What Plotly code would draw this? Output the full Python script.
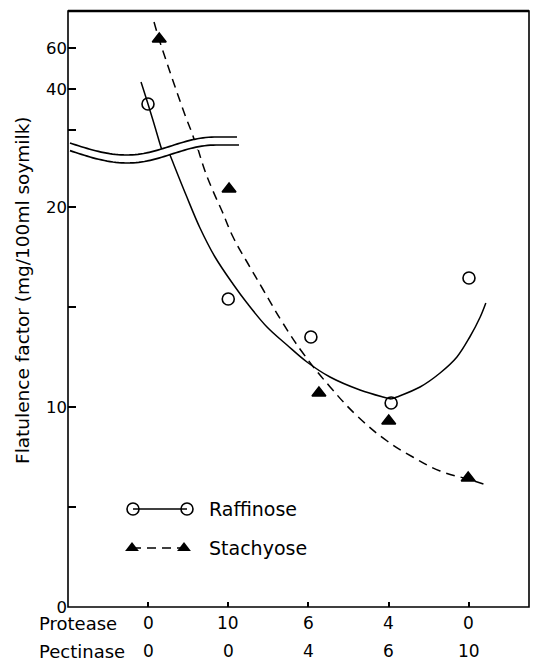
import numpy as np
import plotly.graph_objects as go

# ---------------- data ----------------
categories = [0, 1, 2, 3, 4]
protease = ["0", "10", "6", "4", "0"]
pectinase = ["0", "0", "4", "6", "10"]

raffinose_x = [0.0, 1.0, 2.03, 3.03, 4.0]
raffinose_y = [32.7, 15.4, 13.5, 10.2, 16.45]
stachyose_x = [0.14, 1.01, 2.13, 3.0, 3.99]
stachyose_y = [64.4, 20.9, 10.7, 9.3, 6.45]

# fitted curves, split at the axis break (and at the raffinose minimum)
raff_fit_upper_x = [-0.087, 0.0, 0.087, 0.174, 0.19]
raff_fit_upper_y = [43.4, 32.7, 21.5, 10.2, 8.8]
raff_fit_lower_left_x = [0.24, 0.299, 0.474, 0.648, 0.835, 1.059, 1.234, 1.483, 1.732, 1.981, 2.268, 2.642, 2.928, 3.03]
raff_fit_lower_left_y = [22.95, 22.35, 20.6, 18.95, 17.5, 16.15, 15.2, 14.0, 13.1, 12.25, 11.5, 10.85, 10.5, 10.4]
raff_fit_lower_right_x = [3.03, 3.1, 3.39, 3.64, 3.85, 4.01, 4.14, 4.21]
raff_fit_lower_right_y = [10.4, 10.5, 11.0, 11.7, 12.5, 13.5, 14.5, 15.2]
stach_fit_upper_x = [0.075, 0.137, 0.274, 0.461, 0.548, 0.61, 0.623]
stach_fit_upper_y = [72.7, 64.4, 48.3, 27.3, 18.5, 11.2, 9.3]
stach_fit_lower_x = [0.623, 0.71, 0.81, 0.922, 1.06, 1.27, 1.43, 1.68, 1.93, 2.27, 2.62, 2.98, 3.3, 3.64, 3.98, 4.22]
stach_fit_lower_y = [22.9, 21.8, 20.8, 19.8, 18.5, 17.0, 15.9, 14.2, 12.7, 11.0, 9.5, 8.3, 7.5, 6.8, 6.4, 6.1]

lower_ticks = [0, 5, 10, 15, 20]
lower_ticktext = ["0", "", "10", "", "20"]
upper_ticks = [20, 40, 60]
upper_ticktext = ["", "40", "60"]

y_title = "Flatulence factor (mg/100ml soymilk)"
series_names = ["Raffinose", "Stachyose"]

# ---------------- layout geometry ----------------
W, H = 534, 662
L, R, T, B = 68, 5, 11, 55
PW, PH = W - L - R, H - T - B
FONT = "DejaVu Sans"
LOWER_TOP = 22.85


def px2paper_x(px):
    return (px - L) / PW


def px2paper_y(py):
    return (H - B - py) / PH


brk = px2paper_y(150)

fig = go.Figure()

line_style = dict(color="black", width=1.5)
dash_style = dict(color="black", width=1.5, dash="9px,6px")

fig.add_trace(go.Scatter(x=raff_fit_upper_x, y=raff_fit_upper_y, mode="lines",
                         line=dict(**line_style, shape="spline"), xaxis="x", yaxis="y2"))
fig.add_trace(go.Scatter(x=raff_fit_lower_left_x, y=raff_fit_lower_left_y, mode="lines",
                         line=dict(**line_style, shape="spline", smoothing=1.0), xaxis="x", yaxis="y"))
fig.add_trace(go.Scatter(x=raff_fit_lower_right_x, y=raff_fit_lower_right_y, mode="lines",
                         line=dict(**line_style, shape="spline", smoothing=1.0), xaxis="x", yaxis="y"))
fig.add_trace(go.Scatter(x=stach_fit_upper_x, y=stach_fit_upper_y, mode="lines",
                         line=dict(**dash_style, shape="spline"), xaxis="x", yaxis="y2"))
fig.add_trace(go.Scatter(x=stach_fit_lower_x, y=stach_fit_lower_y, mode="lines",
                         line=dict(**dash_style, shape="spline", smoothing=1.2), xaxis="x", yaxis="y"))

# points: split by which part of the broken axis they fall in
for xs, ys, sym in [(raffinose_x, raffinose_y, "circle-open"),
                    (stachyose_x, stachyose_y, "triangle-up")]:
    lo = [(x, y) for x, y in zip(xs, ys) if y <= LOWER_TOP]
    hi = [(x, y) for x, y in zip(xs, ys) if y > LOWER_TOP]
    mk = dict(symbol=sym, size=12, color="black", line=dict(color="black", width=1.6))
    fig.add_trace(go.Scatter(x=[p[0] for p in lo], y=[p[1] for p in lo], mode="markers",
                             marker=mk, xaxis="x", yaxis="y"))
    fig.add_trace(go.Scatter(x=[p[0] for p in hi], y=[p[1] for p in hi], mode="markers",
                             marker=mk, xaxis="x", yaxis="y2"))

# legend key (drawn on a full-plot helper axis)
leg_y = [px2paper_y(509), px2paper_y(548)]
fig.add_trace(go.Scatter(x=[px2paper_x(133), px2paper_x(187)], y=[leg_y[0]] * 2,
                         mode="lines+markers", line=line_style,
                         marker=dict(symbol="circle-open", size=12, color="black",
                                     line=dict(width=1.6)),
                         xaxis="x3", yaxis="y3"))
fig.add_trace(go.Scatter(x=[px2paper_x(132), px2paper_x(184)], y=[leg_y[1]] * 2,
                         mode="lines+markers", line=dash_style,
                         marker=dict(symbol="triangle-up", size=12, color="black"),
                         xaxis="x3", yaxis="y3"))

ann = []
for name, yy in zip(series_names, leg_y):
    ann.append(dict(text=name, x=px2paper_x(207), y=yy, xref="paper", yref="paper",
                    xanchor="left", yanchor="middle", showarrow=False,
                    font=dict(family=FONT, size=19, color="black")))

# two-row x labels
row1_y, row2_y = px2paper_y(623), px2paper_y(651)
for c, a, b in zip(categories, protease, pectinase):
    ann.append(dict(text=a, x=c, y=row1_y, xref="x", yref="paper", showarrow=False,
                    xanchor="center", yanchor="middle", font=dict(family=FONT, size=17, color="black")))
    ann.append(dict(text=b, x=c, y=row2_y, xref="x", yref="paper", showarrow=False,
                    xanchor="center", yanchor="middle", font=dict(family=FONT, size=17, color="black")))
ann.append(dict(text="Protease", x=px2paper_x(37), y=row1_y, xref="paper", yref="paper",
                xanchor="left", yanchor="middle", showarrow=False,
                font=dict(family=FONT, size=18, color="black")))
ann.append(dict(text="Pectinase", x=px2paper_x(37), y=row2_y, xref="paper", yref="paper",
                xanchor="left", yanchor="middle", showarrow=False,
                font=dict(family=FONT, size=18, color="black")))
ann.append(dict(text=y_title, x=px2paper_x(22), y=px2paper_y(290), xref="paper", yref="paper",
                xanchor="center", yanchor="middle", textangle=-90, showarrow=False,
                font=dict(family=FONT, size=18.5, color="black")))

# axis break (wavy double line)
def wave_top(px):
    if px < 127:
        return 143 + 12 * np.sin((px - 70) / 57 * np.pi / 2)
    elif px < 215:
        return 155 - 18 * (1 - np.cos(np.pi * (px - 127) / 88)) / 2
    return 137

xs_top = np.linspace(70, 237, 60)
xs_bot = np.linspace(70, 239, 60)
top = [(px2paper_x(x), px2paper_y(wave_top(x))) for x in xs_top]
bot = [(px2paper_x(x), px2paper_y(wave_top(x - 1) + 8)) for x in xs_bot]


def path(pts, close=False):
    s = "M " + " L ".join(f"{x:.5f},{y:.5f}" for x, y in pts)
    return s + (" Z" if close else "")

shapes = [
    dict(type="path", path=path(top + bot[::-1], True), xref="paper", yref="paper",
         fillcolor="white", line=dict(width=0), layer="above"),
    dict(type="path", path=path(top), xref="paper", yref="paper",
         line=dict(color="black", width=1.7), layer="above"),
    dict(type="path", path=path(bot), xref="paper", yref="paper",
         line=dict(color="black", width=1.7), layer="above"),
    dict(type="rect", x0=0, x1=1, y0=0, y1=1, xref="paper", yref="paper",
         line=dict(color="black", width=1.6), layer="above"),
    dict(type="line", x0=0, x1=1, y0=1, y1=1, xref="paper", yref="paper",
         line=dict(color="black", width=2.5), layer="above"),
]

axis_common = dict(showgrid=False, zeroline=False, showline=False, ticks="inside",
                   tickcolor="black", tickwidth=1.5,
                   tickfont=dict(family=FONT, size=16.5, color="black"))

fig.update_layout(
    width=W, height=H, margin=dict(l=L, r=R, t=T, b=B, autoexpand=False),
    paper_bgcolor="white", plot_bgcolor="rgba(0,0,0,0)", showlegend=False,
    xaxis=dict(domain=[0, 1], range=[-0.997, 4.748], tickvals=categories,
               showticklabels=False, ticklen=5, anchor="y", **axis_common),
    yaxis=dict(domain=[0, brk], range=[0, LOWER_TOP], tickvals=lower_ticks,
               ticktext=lower_ticktext, ticklen=8, anchor="x", **axis_common),
    yaxis2=dict(domain=[brk, 1], range=[10.24, 78.05], tickvals=upper_ticks,
                ticktext=upper_ticktext, ticklen=8, anchor="x", **axis_common),
    xaxis3=dict(domain=[0, 1], range=[0, 1], visible=False, anchor="y3"),
    yaxis3=dict(domain=[0, 1], range=[0, 1], visible=False, anchor="x3"),
    annotations=ann, shapes=shapes,
)

fig.write_html("out.html")
